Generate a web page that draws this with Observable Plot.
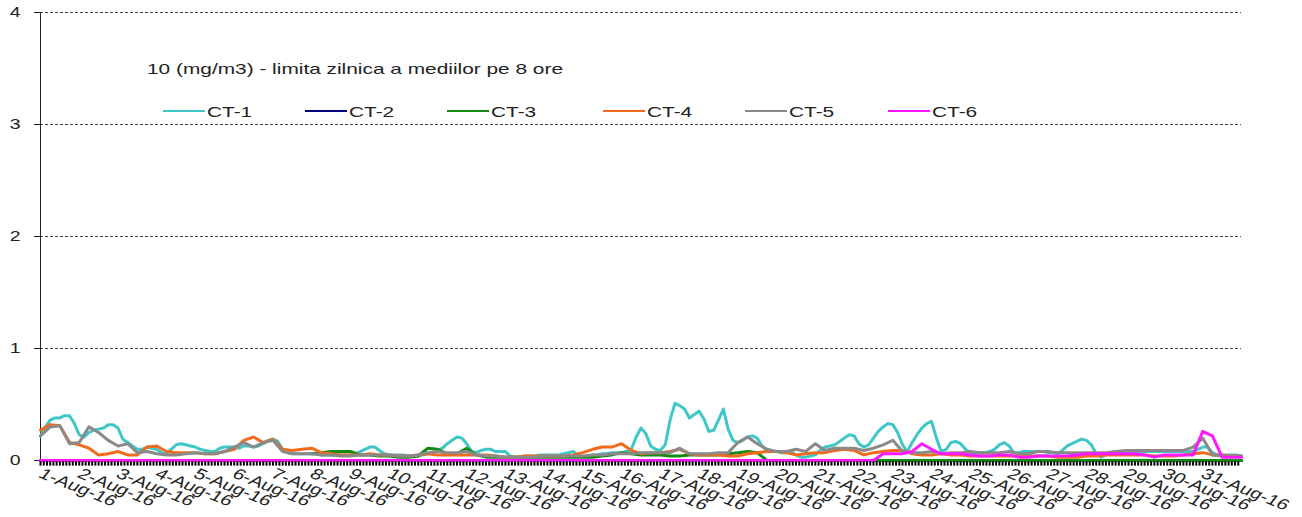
<!DOCTYPE html>
<html><head><meta charset="utf-8">
<script src="https://cdn.jsdelivr.net/npm/d3@7"></script>
<script src="https://cdn.jsdelivr.net/npm/@observablehq/plot@0.6"></script>
<style>
body{margin:0;background:#fff;}
#wrap{position:relative;width:1302px;height:517px;font-family:"Liberation Sans",Arial,sans-serif;}
#wrap svg{position:absolute;left:0;top:0;}
.lbl{position:absolute;font-size:15px;color:#222;transform:scaleX(1.39);transform-origin:0 50%;white-space:nowrap;line-height:1;}
.sw{position:absolute;height:2px;}
</style></head><body><div id="wrap"></div>
<script>
// ---- data ----
const names = ["CT-1","CT-2","CT-3","CT-4","CT-5","CT-6"];
const colors = ["#3fc6c6","#000080","#138a13","#f26a1b","#8a8a8a","#ff18ff"];
const startDate = new Date(Date.UTC(2016,7,1));
const endDate = new Date(Date.UTC(2016,8,1));
const stepHours = [3, 744, 6, 6, 6, 6];
const noteText = "10 (mg/m3) - limita zilnica a mediilor pe 8 ore";

const ct1 = [
0.22,0.30,0.36,0.38,0.38,0.40,0.40,0.33,
0.23,0.21,0.25,0.27,0.28,0.29,0.32,0.32,
0.29,0.19,0.16,0.13,0.10,0.10,0.12,0.11,
0.10,0.07,0.06,0.10,0.14,0.15,0.14,0.13,
0.12,0.10,0.09,0.08,0.08,0.11,0.12,0.12,
0.12,0.11,0.13,0.13,0.12,0.13,0.15,0.18,
0.19,0.17,0.10,0.07,0.06,0.06,0.06,0.06,
0.06,0.06,0.05,0.05,0.05,0.05,0.05,0.05,
0.05,0.06,0.08,0.10,0.12,0.12,0.09,0.06,
0.05,0.05,0.05,0.05,0.04,0.04,0.04,0.05,
0.06,0.07,0.09,0.11,0.15,0.18,0.21,0.20,
0.15,0.08,0.07,0.09,0.10,0.10,0.08,0.08,
0.08,0.04,0.03,0.03,0.04,0.04,0.04,0.05,
0.05,0.05,0.05,0.05,0.06,0.07,0.08,0.05,
0.03,0.04,0.05,0.05,0.06,0.06,0.07,0.07,
0.07,0.08,0.10,0.21,0.29,0.24,0.13,0.10,
0.09,0.14,0.36,0.51,0.49,0.46,0.38,0.41,
0.44,0.37,0.26,0.27,0.36,0.46,0.28,0.18,
0.16,0.18,0.21,0.22,0.20,0.13,0.09,0.08,
0.08,0.07,0.07,0.08,0.05,0.03,0.03,0.04,
0.05,0.09,0.12,0.13,0.14,0.17,0.20,0.23,
0.22,0.15,0.12,0.14,0.20,0.26,0.30,0.33,
0.32,0.25,0.14,0.08,0.16,0.23,0.29,0.33,
0.35,0.20,0.08,0.10,0.16,0.17,0.15,0.10,
0.07,0.07,0.07,0.07,0.08,0.10,0.14,0.16,
0.13,0.07,0.07,0.08,0.08,0.08,0.08,0.08,
0.07,0.07,0.06,0.09,0.13,0.15,0.17,0.19,
0.18,0.14,0.06,0.03,0.05,0.06,0.07,0.07,
0.07,0.07,0.08,0.08,0.08,0.08,0.08,0.08,
0.08,0.08,0.08,0.08,0.08,0.08,0.08,0.10,
0.12,0.12,0.07,0.05,0.05,0.05,0.05,0.05,
0.04];

const ct2 = [0, 0];

const ct3 = [
null,null,null,null,null,null,null,null,null,null,
null,null,null,null,null,null,null,null,null,null,
null,null,null,null,null,null,null,null,
0.06,0.07,0.08,0.08,0.08,0.05,0.05,0.04,0.04,0.03,
0.03,0.04,0.11,0.10,0.06,0.06,0.11,0.05,0.03,0.03,
0.03,0.03,0.03,0.03,0.03,0.03,0.03,0.03,0.03,
0.03,0.04,0.05,0.07,0.06,0.05,0.05,0.05,0.04,0.04,
0.05,0.05,0.05,0.05,0.06,0.07,0.08,0.07,
0,0,0,0,0,0,0,0,0,0,
0,0,0,0,0,0,0,0,0,0,
0,0,0,0,0,0,0,0,0,0,
0,0,0,0,0,0,0,0,0,0,
0,0,0,0,0,0,0,0,0,0];

const ct4 = [
0.27,0.32,0.31,0.16,0.14,0.11,0.05,0.06,0.08,0.05,
0.05,0.12,0.13,0.08,0.07,0.07,0.07,0.06,0.06,0.08,
0.10,0.18,0.21,0.16,0.19,0.10,0.09,0.10,0.11,0.07,
0.06,0.05,0.05,0.05,0.06,0.05,0.05,0.04,0.04,0.05,
0.06,0.05,0.05,0.05,0.05,0.05,0.05,0.04,0.03,0.03,
0.04,0.04,0.04,0.04,0.04,0.05,0.07,0.10,0.12,0.12,
0.15,0.09,0.06,0.07,0.07,0.08,0.10,0.06,0.05,0.05,
0.05,0.04,0.04,0.06,0.07,0.08,0.08,0.07,0.05,0.06,
0.07,0.07,0.09,0.10,0.09,0.05,0.07,0.08,0.09,0.09,
0.06,0.05,0.05,0.06,0.05,0.05,0.04,0.04,0.04,0.04,
0.04,0.04,0.04,0.04,0.04,0.03,0.03,0.03,0.04,0.04,
0.05,0.05,0.05,0.05,0.05,0.04,0.04,0.04,0.05,0.06,
0.07,0.05,0.05,0.04,0.04];

const ct5 = [
0.22,0.30,0.31,0.15,0.16,0.30,0.25,0.18,0.13,0.15,
0.07,0.08,0.06,0.05,0.05,0.06,0.07,0.06,0.06,0.08,
0.12,0.16,0.12,0.16,0.18,0.08,0.06,0.06,0.06,0.05,
0.05,0.04,0.04,0.05,0.05,0.05,0.05,0.04,0.04,0.05,
0.07,0.08,0.07,0.07,0.08,0.05,0.04,0.04,0.03,0.03,
0.03,0.03,0.04,0.04,0.04,0.04,0.04,0.05,0.05,0.06,
0.06,0.06,0.07,0.07,0.07,0.07,0.11,0.06,0.06,0.06,
0.07,0.07,0.16,0.21,0.15,0.10,0.08,0.08,0.10,0.08,
0.15,0.09,0.11,0.11,0.11,0.09,0.11,0.14,0.18,0.08,
0.07,0.07,0.08,0.06,0.07,0.07,0.08,0.07,0.07,0.07,
0.08,0.06,0.06,0.08,0.08,0.07,0.07,0.07,0.07,0.07,
0.07,0.08,0.09,0.09,0.09,0.09,0.09,0.09,0.09,0.12,
0.20,0.05,0.04,0.04,0.04];

const ct6 = [
0,0,0,0,0,0,0,0,0,0, 0,0,0,0,0,0,0,0,0,0,
0,0,0,0,0,0,0,0,0,0, 0,0,0,0,0,0,0,0,0,0,
0,0,0,0,0,0,0,0,0,0, 0,0,0,0,0,0,0,0,0,0,
0,0,0,0,0,0,0,0,0,0, 0,0,0,0,0,0,0,0,0,0,
0,0,0,0,0,0,0,
0.06,0.06,0.06,0.08,0.15,0.10,0.06,0.06,0.06,0.05,
0.04,0.04,0.05,0.05,0.03,0.03,0.04,0.04,0.04,0.04,
0.05,0.06,0.06,0.06,0.06,0.06,0.06,0.05,0.03,0.05,
0.05,0.05,0.05,0.26,0.22,0.03,0.03,0.03];

const yTicks = [0,1,2,3,4];
const gridValues = [1,2,3,4];
const minorTickLength = 0.05; // in y units (about 5-6px)

// ---- table ----
const valuesList = [ct1, ct2, ct3, ct4, ct5, ct6];
const rows = [];
valuesList.forEach((vals, i) => {
  vals.forEach((v, j) => {
    rows.push({series: names[i], date: new Date(startDate.getTime() + j*stepHours[i]*3600e3), value: v});
  });
});
const dayTicks = d3.utcDays(startDate, endDate);
const hourTicks = d3.utcHour.every(2).range(startDate, endDate);

const chart = Plot.plot({
  width: 1302, height: 517,
  marginLeft: 40, marginRight: 61, marginTop: 12, marginBottom: 57,
  style: {fontFamily: '"Liberation Sans", Arial, sans-serif', color: "#222", background: "transparent"},
  x: {type: "utc", domain: [startDate, endDate]},
  y: {domain: [0, 4]},
  color: {domain: names, range: colors},
  marks: [
    Plot.ruleY(gridValues, {stroke: "#444", strokeDasharray: "3,2", strokeWidth: 1}),
    Plot.frame({anchor: "left", stroke: "#222"}),
    Plot.axisY({ticks: yTicks, tickSize: 6, tickPadding: 14, fontSize: 14, tickFormat: d => String(d), label: null}),
    Plot.axisX({ticks: dayTicks, tickSize: 0, tickPadding: 12, tickRotate: 29, fontSize: 15, tickFormat: d3.utcFormat("%-d-%b-%y"), label: null}),
    Plot.frame({anchor: "bottom", stroke: "#000"}),
    Plot.line(rows, {x: "date", y: "value", z: "series", stroke: "series", strokeWidth: 3, strokeLinejoin: "round"}),
    // dense minor tick marks below the x axis (every 2 hours), drawn on top
    Plot.ruleX(hourTicks, {x: d => d, y1: () => -0.012, y2: () => -minorTickLength, stroke: "#000", strokeWidth: 2})
  ]
});

const wrap = document.getElementById("wrap");
wrap.appendChild(chart);

// horizontal stretch of axis text to match the reference typography
chart.querySelectorAll('g[aria-label="x-axis tick label"] text, g[aria-label="y-axis tick label"] text').forEach(t => {
  const tr = t.getAttribute("transform") || "";
  if (tr.includes("rotate(")) t.setAttribute("transform", tr.replace("rotate(", "scale(1.39,1) rotate("));
  else t.setAttribute("transform", tr + " scale(1.39,1)");
});

// annotation and legend (HTML)
const note = document.createElement("div");
note.className = "lbl"; note.style.left = "147px"; note.style.top = "61px";
note.textContent = noteText;
wrap.appendChild(note);

const legendLeft = [163, 305, 447, 603, 745, 888];
names.forEach((n, i) => {
  const sw = document.createElement("div");
  sw.className = "sw"; sw.style.left = legendLeft[i] + "px"; sw.style.top = "110px";
  sw.style.width = "42px"; sw.style.background = colors[i];
  wrap.appendChild(sw);
  const tx = document.createElement("div");
  tx.className = "lbl"; tx.style.left = (legendLeft[i] + 44) + "px"; tx.style.top = "104px";
  tx.textContent = n;
  wrap.appendChild(tx);
});
</script></body></html>
